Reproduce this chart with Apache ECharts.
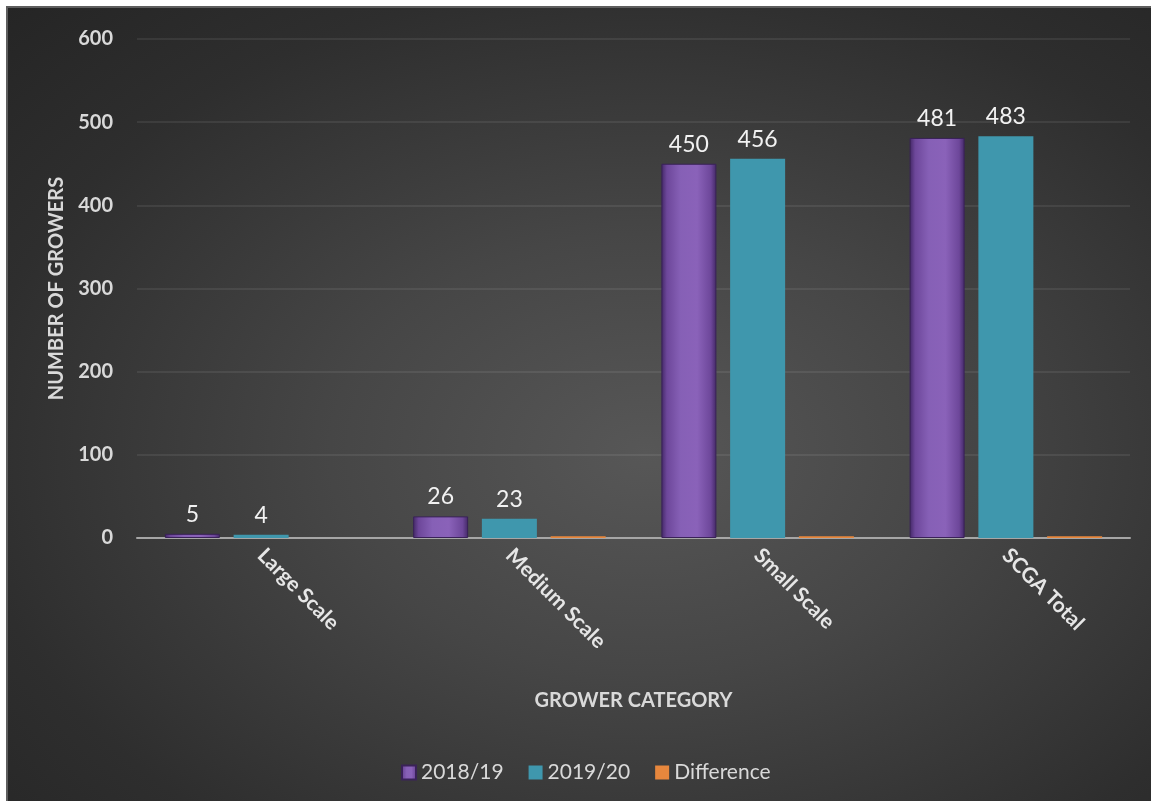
<!DOCTYPE html>
<html>
<head>
<meta charset="utf-8">
<script src="https://cdn.jsdelivr.net/npm/echarts@6/dist/echarts.min.js"></script>
<style>
  html, body { margin: 0; padding: 0; background: #fff; overflow: hidden; }
  #frame {
    position: absolute; left: 6px; top: 6px; width: 1160px; height: 810px;
    border-left: 2px solid #5e5e5e; border-top: 2px solid #5e5e5e;
    background: radial-gradient(ellipse farthest-corner at 55% 55%, #575757 0%, #464646 35%, #2e2e2e 75%, #252525 100%);
  }
  #chart { position: absolute; left: 0; top: 0; width: 1151px; height: 801px; }
</style>
</head>
<body>
<div id="frame"></div>
<div id="chart"></div>
<script>
const categories = ['Large Scale', 'Medium Scale', 'Small Scale', 'SCGA Total'];
const seriesNames = ['2018/19', '2019/20', 'Difference'];
const values2018 = [5, 26, 450, 481];
const values2019 = [4, 23, 456, 483];
const valuesDiff = [0, 2, 2, 2];
const yTicks = {min: 0, max: 600, interval: 100};

const FONT = 'Lato';

const purpleFill = new echarts.graphic.LinearGradient(0, 0, 1, 0, [
  {offset: 0, color: '#432866'},
  {offset: 0.1, color: '#6d479a'},
  {offset: 0.35, color: '#8660b6'},
  {offset: 0.65, color: '#8a62b9'},
  {offset: 0.9, color: '#6d479a'},
  {offset: 1, color: '#432866'}
]);

const labelStyle = {
  show: true,
  position: 'top',
  distance: 8,
  color: '#f2f2f2',
  fontFamily: FONT,
  fontSize: 23
};

const option = {
  backgroundColor: 'transparent',
  animation: false,
  textStyle: {fontFamily: FONT},
  grid: {
    left: 137,
    right: 21,
    top: 39,
    bottom: 263,
    containLabel: false,
    outerBoundsMode: 'none'
  },
  legend: {
    data: seriesNames,
    left: 396,
    top: 757,
    itemWidth: 14,
    itemHeight: 14,
    itemGap: 25,
    icon: 'rect',
    textStyle: {color: '#d9d9d9', fontFamily: FONT, fontSize: 21}
  },
  xAxis: {
    type: 'category',
    data: categories,
    name: 'GROWER CATEGORY',
    nameLocation: 'middle',
    nameGap: 153,
    nameTextStyle: {color: '#d9d9d9', fontFamily: FONT, fontSize: 20, fontWeight: 'bold'},
    axisLine: {lineStyle: {color: '#a6a6a6', width: 2}},
    axisTick: {show: false},
    axisLabel: {
      rotate: -45,
      margin: 14,
      color: '#e6e6e6',
      fontFamily: FONT,
      fontSize: 21,
      fontWeight: 'bold'
    },
    splitLine: {show: false}
  },
  yAxis: {
    type: 'value',
    min: yTicks.min,
    max: yTicks.max,
    interval: yTicks.interval,
    name: 'NUMBER OF GROWERS',
    nameLocation: 'middle',
    nameGap: 70,
    nameTextStyle: {color: '#d9d9d9', fontFamily: FONT, fontSize: 20, fontWeight: 'bold'},
    axisLine: {show: false},
    axisTick: {show: false},
    axisLabel: {
      margin: 24,
      color: '#d9d9d9',
      fontFamily: FONT,
      fontSize: 20,
      fontWeight: 'bold'
    },
    splitLine: {lineStyle: {color: 'rgba(255,255,255,0.1)', width: 1.5}}
  },
  series: [
    {
      name: seriesNames[0],
      type: 'bar',
      data: values2018,
      barWidth: 55,
      barGap: '25%',
      itemStyle: {color: purpleFill, borderColor: '#3a2258', borderWidth: 1},
      label: labelStyle
    },
    {
      name: seriesNames[1],
      type: 'bar',
      data: values2019,
      barWidth: 55,
      barGap: '25%',
      itemStyle: {color: '#3f97ad'},
      label: labelStyle
    },
    {
      name: seriesNames[2],
      type: 'bar',
      data: valuesDiff,
      barWidth: 55,
      barGap: '25%',
      itemStyle: {color: '#e7873d'}
    }
  ]
};

const myChart = echarts.init(document.getElementById('chart'));
myChart.setOption(option);
</script>
</body>
</html>
